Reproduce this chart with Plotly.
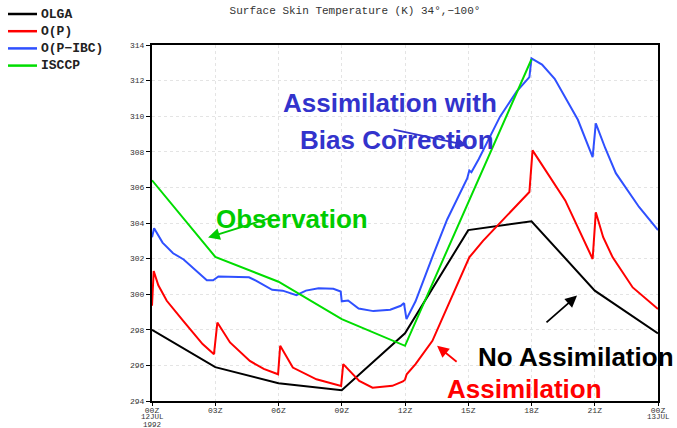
import plotly.graph_objects as go

# ---------------- data ----------------
hour_ticks = [0, 3, 6, 9, 12, 15, 18, 21, 24]
hour_tick_labels = ["00Z", "03Z", "06Z", "09Z", "12Z", "15Z", "18Z", "21Z", "00Z"]
date_labels = [(0, ["12JUL", "1992"]), (24, ["13JUL"])]
temp_ticks = [294, 296, 298, 300, 302, 304, 306, 308, 310, 312, 314]

olga_hours = [0, 3, 6, 9, 12, 15, 18, 21, 24]
olga_temp = [298.0, 295.9, 295.0, 294.6, 297.8, 303.6, 304.1, 300.2, 297.8]

isccp_hours = [0, 3, 6, 9, 12, 18]
isccp_temp = [306.4, 302.1, 300.7, 298.6, 297.1, 313.2]

ibc_hours = [0, 0.1, 0.5, 1.0, 1.5, 2.0, 2.6, 2.9, 3.0, 3.15, 4.6, 4.95, 5.7, 6.2, 6.85, 7.3,
             7.9, 8.6, 8.95, 9.0, 9.3, 9.8, 10.5, 11.3, 11.8, 11.95, 12.07, 12.5, 13.3, 14.0,
             14.95, 15.05, 15.15, 15.5, 16.5, 17.3, 17.9, 18.0, 18.5, 19.1, 20.2, 20.9, 21.05,
             21.5, 22.0, 23.1, 24.0]
ibc_temp = [303.2, 303.7, 302.9, 302.3, 301.95, 301.4, 300.78, 300.78, 300.85, 301.0, 300.95,
            300.75, 300.25, 300.2, 299.95, 300.2, 300.33, 300.3, 300.15, 299.6, 299.65, 299.2,
            299.05, 299.13, 299.35, 299.5, 298.6, 299.6, 302.1, 304.2, 306.5, 306.95, 306.85,
            307.6, 309.96, 311.4, 312.2, 313.25, 312.9, 312.1, 309.8, 307.7, 309.6, 308.2,
            306.8, 304.9, 303.6]

p_hours = [0, 0.08, 0.3, 0.7, 1.48, 2.4, 2.94, 3.1, 3.7, 4.64, 5.3, 5.98, 6.08, 6.68, 7.8,
           8.97, 9.07, 9.83, 10.46, 11.4, 11.9, 12.0, 12.08, 12.5, 13.3, 14.1, 14.9, 15.05,
           15.7, 17.0, 17.9, 18.05, 19.6, 20.9, 21.05, 21.4, 21.85, 22.8, 24.0]
p_temp = [299.35, 301.3, 300.5, 299.63, 298.5, 297.2, 296.63, 298.41, 297.29, 296.25, 295.8,
          295.5, 297.1, 295.88, 295.22, 294.85, 296.07, 295.13, 294.75, 294.85, 295.1, 295.2,
          295.5, 296.07, 297.38, 299.5, 301.7, 302.07, 303.0, 304.6, 305.74, 308.08, 305.27,
          301.98, 304.6, 303.2, 302.07, 300.38, 299.17]

series_names = ["OLGA", "O(P)", "O(P\u2212IBC)", "ISCCP"]
series_colors = ["#000000", "#FF0000", "#2F50FF", "#00DD00"]

title_text = "Surface Skin Temperature (K) 34\u00b0,\u2212100\u00b0"

# ---------------- figure ----------------
W, H = 677, 428
fig = go.Figure()
for name, xs, ys, col in zip(series_names,
                             [olga_hours, p_hours, ibc_hours, isccp_hours],
                             [olga_temp, p_temp, ibc_temp, isccp_temp],
                             series_colors):
    fig.add_trace(go.Scatter(x=xs, y=ys, mode="lines", name=name, showlegend=False,
                             line=dict(color=col, width=2)))

mono = "Liberation Mono"
sans = "Liberation Sans"

fig.update_layout(
    width=W, height=H,
    margin=dict(l=152, r=19, t=45, b=27),
    paper_bgcolor="white", plot_bgcolor="white",
    title=dict(text=title_text, x=355 / W, xref="container", xanchor="center",
               y=1 - 10 / H, yref="container", yanchor="middle",
               font=dict(family=mono, size=11, color="#333333")),
    xaxis=dict(range=[0, 24], tickvals=hour_ticks, ticktext=hour_tick_labels,
               ticks="outside", ticklen=3, tickcolor="black", automargin=False,
               ticklabelstandoff=-3,
               showline=True, linecolor="black", linewidth=2, mirror=True,
               showgrid=True, gridcolor="#E4E4E4", griddash="dot", gridwidth=1,
               zeroline=False,
               tickfont=dict(family=mono, size=8, color="#333333")),
    yaxis=dict(range=[294, 314], tickvals=temp_ticks, automargin=False,
               ticks="outside", ticklen=4, tickcolor="black",
               showline=True, linecolor="black", linewidth=2, mirror=True,
               showgrid=True, gridcolor="#E4E4E4", griddash="dot", gridwidth=1,
               zeroline=False,
               tickfont=dict(family=mono, size=8, color="#333333")),
)

# date lines under the first and last tick labels
for hx, lines in date_labels:
    for i, t in enumerate(lines):
        fig.add_annotation(x=hx, y=-(16 + 7.5 * i) / 356, xref="x", yref="paper", text=t,
                           showarrow=False, xanchor="center", yanchor="middle",
                           borderpad=0,
                           font=dict(family=mono, size=7.5, color="#333333"))

# key (top-left), one row per series
for i, (name, col) in enumerate(zip(series_names, series_colors)):
    yrow = 1 - (14 + 17.2 * i) / H
    yp = (yrow * H - 27) / 356
    fig.add_shape(type="line", xref="paper", yref="paper",
                  x0=-144 / 506, x1=-115 / 506, y0=yp, y1=yp,
                  line=dict(color=col, width=2.5))
    fig.add_annotation(x=-113 / 506, y=yp, xref="paper", yref="paper",
                       text="<b>" + name + "</b>", showarrow=False, xanchor="left",
                       yanchor="middle", font=dict(family=mono, size=13, color="#222222"))

# arrows (head at x,y ; tail at ax,ay) in data coordinates
arrows = [
    (14.94, 308.37, 11.39, 309.27, "#3333CC"),
    (2.66, 303.18, 5.69, 304.31, "#00CC00"),
    (20.16, 299.92, 18.64, 298.34, "#000000"),
    (13.52, 297.10, 14.52, 296.14, "#FF0000"),
]
for x, y, ax, ay, col in arrows:
    fig.add_annotation(x=x, y=y, ax=ax, ay=ay, xref="x", yref="y", axref="x", ayref="y",
                       text="", showarrow=True, arrowhead=2, arrowsize=1.3,
                       arrowwidth=1.8, arrowcolor=col)

labels = [
    ("Assimilation with", 11.29, 310.73, "#3333CC", 26),
    ("Bias Correction", 11.62, 308.65, "#3333CC", 26),
    ("Observation", 6.64, 304.25, "#00CC00", 26),
    ("No Assimilation", 20.1, 296.48, "#000000", 26),
    ("Assimilation", 17.69, 294.65, "#FF0000", 26),
]
for t, x, y, col, sz in labels:
    fig.add_annotation(x=x, y=y, xref="x", yref="y", text="<b>" + t + "</b>",
                       showarrow=False, xanchor="center", yanchor="middle",
                       borderpad=0,
                       font=dict(family=sans, size=sz, color=col))

fig.write_html("out.html", config={"displayModeBar": False},
               post_script="document.body.style.margin='0';document.body.style.overflow='hidden';")
